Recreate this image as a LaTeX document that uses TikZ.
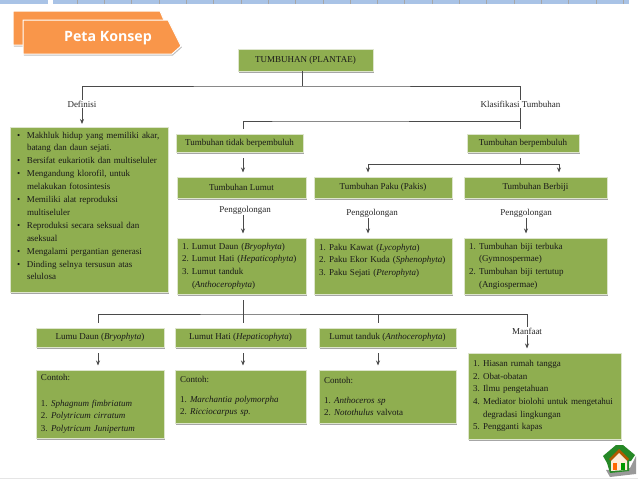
\documentclass[tikz,border=0pt]{standalone}
\usepackage{fontspec}
\setmainfont{Liberation Serif}
\newfontfamily\tabfont{Open Sans}
\usepackage{tikz}
\usetikzlibrary{arrows.meta,positioning,shadows}
\definecolor{boxgreen}{HTML}{8FAE50}
\definecolor{boxedge}{HTML}{DDE5CC}
\definecolor{taborange}{HTML}{F9964A}
\definecolor{rulerblue}{HTML}{A9C3E6}
\definecolor{inkgray}{HTML}{4A4A4A}
\newcommand{\rowitem}[2]{\makebox[10pt][l]{#1}#2}
\begin{document}
\begin{tikzpicture}[x=1pt,y=-1pt,>={Stealth[length=5pt,width=4pt]},
  box/.style={fill=boxgreen,draw=boxedge,line width=.8pt,align=center,outer sep=0pt,
  font=\fontsize{9}{12.6}\selectfont,text=black!90,inner ysep=0pt,
  drop shadow={shadow xshift=1pt,shadow yshift=-1.5pt,fill=black!35,opacity=1}},
  listbox/.style={box,align=left,inner xsep=5pt},
  lbl/.style={font=\fontsize{9}{11}\selectfont,text=black!85,inner sep=1pt},
  tabshape/.style={fill=taborange,draw=white,line width=1pt,
  drop shadow={shadow xshift=.8pt,shadow yshift=-1.5pt,fill=black!25,opacity=1}},
  conn/.style={draw=inkgray,line width=.8pt},
  tipgap/.style={conn,->,shorten >=4.5pt}]
\useasboundingbox (0,0) rectangle (638,479);
% ruler strip and slide foot
\fill[rulerblue] (0,0) rectangle (629,4);
\foreach \i in {0,...,20}
  \draw[black!35,line width=.4pt] ({77+27.3*\i},0) -- ({77+27.3*\i},4);
\fill[white] (48,0) rectangle (53,4);
\fill[black!10] (0,478) rectangle (638,479);
% title tab
\draw[tabshape] (13,11) -- (160,11) -- (170,34) -- (170,45) -- (13,45) -- cycle;
\draw[tabshape] (23,20) -- (168,20) -- (181,46) -- (172,54) -- (23,54) -- cycle;
\node[font=\tabfont\bfseries\fontsize{14.2}{16}\selectfont,text=white,inner sep=0pt] (title) at (108,38) {Peta Konsep};
% boxes
\node[box,minimum width=135pt,minimum height=22pt] (plantae) at (305.5,60) {TUMBUHAN (PLANTAE)};
\node[box,minimum width=127pt,minimum height=18pt] (tidak) at (239.5,143) {Tumbuhan tidak berpembuluh};
\node[box,minimum width=112pt,minimum height=18pt] (pembuluh) at (523,143) {Tumbuhan berpembuluh};
\node[box,minimum width=129pt,minimum height=21pt] (lumut) at (241.5,187.5) {Tumbuhan Lumut};
\node[box,minimum width=138pt,minimum height=21pt] (paku) at (383,187.5) {Tumbuhan Paku (Pakis)};
\node[box,minimum width=143pt,minimum height=21pt] (biji) at (535.5,187.5) {Tumbuhan Berbiji};
\node[listbox,text width=119pt,minimum height=56pt,below=40pt of lumut] (lumutlist) {%
  \rowitem{1.}{Lumut Daun (\textit{Bryophyta})}\\
  \rowitem{2.}{Lumut Hati (\textit{Hepaticophyta})}\\
  \rowitem{3.}{Lumut tanduk}\\
  \rowitem{}{(\textit{Anthocerophyta})}};
\node[listbox,text width=128pt,minimum height=56pt,below=40pt of paku] (pakulist) {%
  \rowitem{1.}{Paku Kawat (\textit{Lycophyta})}\\
  \rowitem{2.}{Paku Ekor Kuda (\textit{Sphenophyta})}\\
  \rowitem{3.}{Paku Sejati (\textit{Pterophyta})}\\
  ~};
\node[listbox,text width=133pt,minimum height=56pt,below=40pt of biji] (bijilist) {%
  \rowitem{1.}{Tumbuhan biji terbuka}\\
  \rowitem{}{(Gymnospermae)}\\
  \rowitem{2.}{Tumbuhan biji tertutup}\\
  \rowitem{}{(Angiospermae)}};
\node[listbox,text width=144pt,inner xsep=7pt,minimum height=165pt,font=\fontsize{9}{12.9}\selectfont] (ciri) at (89,209.5) {%
  \rowitem{\textbullet}{Makhluk hidup yang memiliki akar,}\\
  \rowitem{}{batang dan daun sejati.}\\
  \rowitem{\textbullet}{Bersifat eukariotik dan multiseluler}\\
  \rowitem{\textbullet}{Mengandung klorofil, untuk}\\
  \rowitem{}{melakukan fotosintesis}\\
  \rowitem{\textbullet}{Memiliki alat reproduksi}\\
  \rowitem{}{multiseluler}\\
  \rowitem{\textbullet}{Reproduksi secara seksual dan}\\
  \rowitem{}{aseksual}\\
  \rowitem{\textbullet}{Mengalami pergantian generasi}\\
  \rowitem{\textbullet}{Dinding selnya tersusun atas}\\
  \rowitem{}{selulosa}\\[-5.7pt]
  ~};
\node[box,minimum width=128pt,minimum height=19pt] (daun) at (100,337.5) {Lumu Daun (\textit{Bryophyta})};
\node[box,minimum width=131pt,minimum height=19pt] (hati) at (240.5,337.5) {Lumut Hati (\textit{Hepaticophyta})};
\node[box,minimum width=137pt,minimum height=19pt] (tanduk) at (387.5,337.5) {Lumut tanduk (\textit{Anthocerophyta})};
\node[listbox,text width=118pt,minimum height=68pt,below=23pt of daun] (contohdaun) {%
  Contoh:\\
  ~\\
  \rowitem{1.}{\textit{Sphagnum fimbriatum}}\\
  \rowitem{2.}{\textit{Polytricum cirratum}}\\
  \rowitem{3.}{\textit{Polytricum Junipertum}}};
\node[listbox,text width=121pt,minimum height=53pt,below=23pt of hati] (contohhati) {%
  Contoh:\\[7pt]
  \rowitem{1.}{\textit{Marchantia polymorpha}}\\
  \rowitem{2.}{\textit{Ricciocarpus sp.}}};
\node[listbox,text width=127pt,minimum height=53pt,below=23pt of tanduk] (contohtanduk) {%
  Contoh:\\[7pt]
  \rowitem{1.}{\textit{Anthoceros sp}}\\
  \rowitem{2.}{\textit{Notothulus} valvota}};
\node[listbox,text width=143pt,minimum height=86pt] (guna) at (544.5,396) {%
  \rowitem{1.}{Hiasan rumah tangga}\\
  \rowitem{2.}{Obat-obatan}\\
  \rowitem{3.}{Ilmu pengetahuan}\\
  \rowitem{4.}{Mediator biolohi untuk mengetahui}\\
  \rowitem{}{degradasi lingkungan}\\
  \rowitem{5.}{Pengganti kapas}};
% labels
\node[lbl] (defin) at (82,104) {Definisi};
\node[lbl] (klas) at (520.5,104) {Klasifikasi Tumbuhan};
\node[lbl] (golonglumut) at (245,210) {Penggolongan};
\node[lbl] (golongpaku) at (372,213) {Penggolongan};
\node[lbl] (golongbiji) at (526,213) {Penggolongan};
\node[lbl] (manfaat) at (527,331) {Manfaat};
% connector corners
\coordinate (trunk) at (302.5,86);
\coordinate (barmid) at (300,121);
\coordinate (tidakin) at (243,129);
\coordinate (lumutout) at (243,158);
\coordinate (pembout) at (520,158);
\coordinate (barpaku) at (450,164);
\coordinate (pakuin) at (368,164);
\coordinate (bijiin) at (559,164);
\coordinate (listout) at (243,300);
\coordinate (barlow) at (300,314);
\coordinate (daunin) at (98,323);
\coordinate (hatiin) at (243,323);
\coordinate (tandukin) at (378,323);
% upper branches
\draw[conn] (plantae.south -| trunk) -- (trunk);
\draw[conn] (defin.north) |- (trunk) -| (klas.north);
\draw[tipgap,shorten >=3pt] (defin.south) -- (defin.south |- ciri.north);
\draw[conn,shorten >=5pt] (klas.south) -- (klas.south |- pembuluh.north);
\draw[conn] (tidakin) |- (barmid) -| (klas.south);
\draw[tipgap] (lumutout) -- (lumutout |- lumut.north);
\draw[conn] (pembout) -- (pembout |- barpaku);
\draw[tipgap] (barpaku) -| (pakuin |- paku.north);
\draw[tipgap] (barpaku) -| (bijiin |- biji.north);
% Penggolongan arrows
\draw[tipgap] (golonglumut.south -| lumutout) -- (lumutout |- lumutlist.north);
\draw[tipgap] (golongpaku.south -| pakuin) -- (pakuin |- pakulist.north);
\draw[tipgap] (golongbiji.south) -- (golongbiji.south |- bijilist.north);
% lower branches
\draw[conn] (listout) -- (hatiin);
\draw[conn] (daunin) |- (barlow) -| (tandukin);
\draw[conn] (barlow) -| (manfaat.north);
\draw[tipgap] (manfaat.south) -- (manfaat.south |- guna.north);
\foreach \from/\to/\top in {daunin/contohdaun/daun,hatiin/contohhati/hati,tandukin/contohtanduk/tanduk}
  \draw[tipgap,shorten <=6pt] (\from |- \top.south) -- (\from |- \to.north);
% home button
\fill[black!40] (606,470) -- (630,468) -- (636,456) -- (636,474) -- (610,477) -- cycle;
\fill[green!45!black!85!white] (603,456) -- (616,445) -- (623,445) -- (635,455) -- (631,461) -- (629,461) -- (629,471) -- (610,473) -- (607,463) -- cycle;
\fill[orange!70!black] (609,459) -- (619,449) -- (629,459) -- (627,461) -- (619,453) -- (611,461) -- cycle;
\fill[orange!15] (611,461) -- (619,453) -- (627,461) -- (627,470) -- (611,471) -- cycle;
\fill[orange!80!red] (613,463) rectangle (617,470);
\fill[green!60!black] (621,463) rectangle (625,470);
\end{tikzpicture}
\end{document}
